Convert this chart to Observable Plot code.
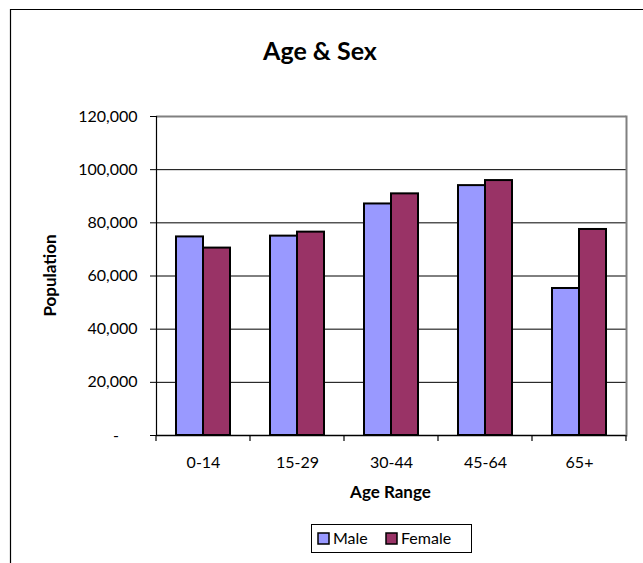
<!DOCTYPE html>
<html><head><meta charset="utf-8">
<script src="https://cdn.jsdelivr.net/npm/d3@7"></script>
<script src="https://cdn.jsdelivr.net/npm/@observablehq/plot@0.6"></script>
<style>body{margin:0;background:#fff} #chart{position:relative;width:643px;height:563px}</style>
</head><body><div id="chart"></div>
<script>
const ageRanges = ["0-14", "15-29", "30-44", "45-64", "65+"];
const sexes = ["Male", "Female"];
const maleValues = [74700, 75000, 87100, 94000, 55300];
const femaleValues = [70500, 76500, 90900, 95900, 77500];
const yTicks = [0, 20000, 40000, 60000, 80000, 100000, 120000];
const gridTicks = [20000, 40000, 60000, 80000, 100000];
const colors = ["#9999FF", "#993366"];
const titleText = "Age & Sex";
const xLabel = "Age Range";
const yLabel = "Population";

const data = ageRanges.flatMap((age, i) => [
  {age, sex: "Male", value: maleValues[i]},
  {age, sex: "Female", value: femaleValues[i]}
]);

const chart = Plot.plot({
  width: 643, height: 563,
  marginLeft: 154, marginRight: 16, marginTop: 116, marginBottom: 128,
  style: {fontFamily: "Lato, sans-serif", fontSize: "16px", color: "#000", background: "#fff", overflow: "visible"},
  fx: {domain: ageRanges, padding: 0, label: null, axis: null},
  x: {domain: sexes, paddingInner: 0, paddingOuter: 0.727, axis: null},
  y: {domain: [0, 120000], axis: null},
  color: {domain: sexes, range: colors},
  marks: [
    Plot.ruleY(gridTicks, {stroke: "#000", strokeWidth: 1}),
    Plot.ruleY([120000], {stroke: "#808080", strokeWidth: 2}),
    Plot.barY(data, {fx: "age", x: "sex", y: "value", fill: "sex", stroke: "#000", strokeWidth: 2, inset: 0}),
    Plot.ruleY([0], {stroke: "#000", strokeWidth: 1.5}),
    Plot.frame({anchor: "left", facetAnchor: "left", stroke: "#000", strokeWidth: 1.2}),
    Plot.frame({anchor: "right", facetAnchor: "right", stroke: "#808080", strokeWidth: 2}),
    Plot.axisY({ticks: yTicks, tickSize: 6, tickPadding: 13,
      tickFormat: d => d === 0 ? "-\u2007\u2007" : d3.format(",")(d), label: null}),
    Plot.axisFx({anchor: "bottom", tickSize: 0, tickPadding: 21, label: null})
  ]
});

document.getElementById("chart").appendChild(chart);

const svg = d3.select(chart);
const fx = chart.scale("fx");
const y = chart.scale("y");
const y0 = y.apply(0);

// category boundary ticks
const bounds = ageRanges.map(d => fx.apply(d));
bounds.push(fx.apply(ageRanges[ageRanges.length - 1]) + fx.bandwidth);
svg.append("g").attr("stroke", "#000").attr("stroke-width", 1.2)
  .selectAll("line").data(bounds).join("line")
  .attr("x1", d => d).attr("x2", d => d)
  .attr("y1", y0).attr("y2", y0 + 6);

// outer chart border
svg.append("path").attr("d", "M10.5,563V9.5H643").attr("fill", "none")
  .attr("stroke", "#000").attr("stroke-width", 1.2);

const xMid = (fx.range[0] + fx.range[1]) / 2;
const yMid = (y.range[0] + y.range[1]) / 2;

svg.append("text").attr("x", 320).attr("y", 60).attr("text-anchor", "middle")
  .attr("font-weight", "bold").attr("font-size", 25).text(titleText);

svg.append("text").attr("x", xMid).attr("y", 498).attr("text-anchor", "middle")
  .attr("font-weight", "bold").attr("font-size", 17).text(xLabel);

svg.append("text").attr("transform", `translate(56,${yMid}) rotate(-90)`)
  .attr("text-anchor", "middle").attr("font-weight", "bold").attr("font-size", 17).text(yLabel);

// legend
const lg = svg.append("g");
lg.append("rect").attr("x", 311.5).attr("y", 524.5).attr("width", 160).attr("height", 28)
  .attr("fill", "#fff").attr("stroke", "#000").attr("stroke-width", 1);
const legendPos = [{sw: 318, tx: 333}, {sw: 386, tx: 401}];
sexes.forEach((s, i) => {
  lg.append("rect").attr("x", legendPos[i].sw).attr("y", 533).attr("width", 11).attr("height", 11)
    .attr("fill", chart.scale("color").apply(s)).attr("stroke", "#000").attr("stroke-width", 1.5);
  lg.append("text").attr("x", legendPos[i].tx).attr("y", 544).attr("text-anchor", "start")
    .attr("font-size", 16).text(s);
});
</script>
</body></html>
